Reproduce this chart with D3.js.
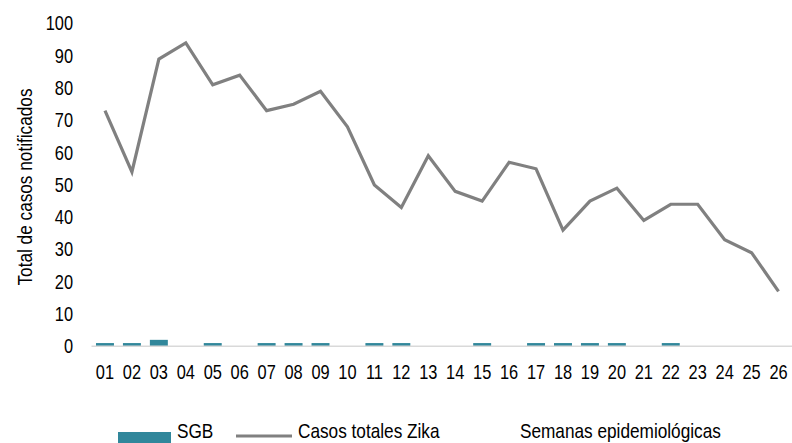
<!DOCTYPE html>
<html>
<head>
<meta charset="utf-8">
<script src="https://cdn.jsdelivr.net/npm/d3@7"></script>
<style>
  html, body { margin: 0; padding: 0; background: #fff; }
  svg { display: block; }
  text { font-family: "Liberation Sans", Arial, sans-serif; fill: #000; }
</style>
</head>
<body>
<svg id="chart" width="792" height="443"></svg>
<script>
// Epidemiological weeks
const weeks = ["01","02","03","04","05","06","07","08","09","10","11","12","13",
               "14","15","16","17","18","19","20","21","22","23","24","25","26"];
// Guillain-Barré syndrome cases per week
const sgb = [1,1,2,0,1,0,1,1,1,0,1,1,0,0,1,0,1,1,1,1,0,1,0,0,0,0];
// Total Zika cases per week
const zika = [73,54,89,94,81,84,73,75,79,68,50,43,59,48,45,57,55,36,45,49,39,44,44,33,29,17];
const yTicks = [0,10,20,30,40,50,60,70,80,90,100];

const svg = d3.select("#chart");
const plotLeft = 91.5, plotRight = 792, plotTop = 23.5, plotBottom = 346.3;
const narrow = 0.82;   // horizontal squeeze for a condensed face

// squeeze a text horizontally while keeping its anchor point in place
function condense(sel) {
  sel.each(function () {
    const t = d3.select(this);
    const ax = +t.attr("x") || 0;
    t.attr("transform", `translate(${ax * (1 - narrow)},0) scale(${narrow},1)`);
  });
}

const x = d3.scaleBand().domain(weeks).range([plotLeft, plotRight]).paddingInner(1/3).paddingOuter(1/6);
const y = d3.scaleLinear().domain([0, 100]).range([plotBottom, plotTop]);

// Y axis labels
const yAxis = svg.append("g")
  .attr("transform", `translate(${plotLeft},0)`)
  .call(d3.axisLeft(y).tickValues(yTicks).tickSize(0).tickPadding(18.5));
yAxis.select(".domain").remove();
yAxis.selectAll("text").style("font-size", "20px")
  .style("font-family", "'Liberation Sans', Arial, sans-serif").attr("fill", "#000").call(condense);

// Bars
svg.append("g").selectAll("rect")
  .data(weeks.map((w, i) => ({ w, v: sgb[i] })).filter(d => d.v > 0))
  .join("rect")
  .attr("x", d => x(d.w))
  .attr("width", x.bandwidth())
  .attr("y", d => y(d.v))
  .attr("height", d => y(0) - y(d.v))
  .attr("fill", "#31879B");

// X axis baseline and labels
const xAxis = svg.append("g")
  .attr("transform", `translate(0,${plotBottom})`)
  .call(d3.axisBottom(x).tickSize(0).tickPadding(18.7));
xAxis.select(".domain").attr("stroke", "#d9d9d9").attr("stroke-width", 1.5)
  .attr("d", `M${plotLeft},0H${plotRight}`);
xAxis.selectAll("text").style("font-size", "20px")
  .style("font-family", "'Liberation Sans', Arial, sans-serif").attr("fill", "#000").call(condense);

// Zika line
const line = d3.line()
  .x((d, i) => x(weeks[i]) + x.bandwidth() / 2)
  .y(d => y(d));
svg.append("path")
  .datum(zika)
  .attr("d", line)
  .attr("fill", "none")
  .attr("stroke", "#808080")
  .attr("stroke-width", 3.2)
  .attr("stroke-linejoin", "miter");

// Y axis title
svg.append("text")
  .attr("transform", `translate(32,187) rotate(-90) scale(${narrow},1)`)
  .attr("text-anchor", "middle")
  .style("font-size", "21px")
  .text("Total de casos notificados");

// Legend
svg.append("rect").attr("x", 118).attr("y", 432).attr("width", 53).attr("height", 12).attr("fill", "#31879B");
svg.append("text").attr("x", 177).attr("y", 438.5).style("font-size", "21px").text("SGB").call(condense);
svg.append("line").attr("x1", 236).attr("x2", 292).attr("y1", 436).attr("y2", 436)
  .attr("stroke", "#808080").attr("stroke-width", 3.2);
svg.append("text").attr("x", 298).attr("y", 438.5).style("font-size", "21px").text("Casos totales Zika").call(condense);

// X axis title
svg.append("text").attr("x", 520).attr("y", 438).style("font-size", "21px").text("Semanas epidemiológicas").call(condense);
</script>
</body>
</html>
